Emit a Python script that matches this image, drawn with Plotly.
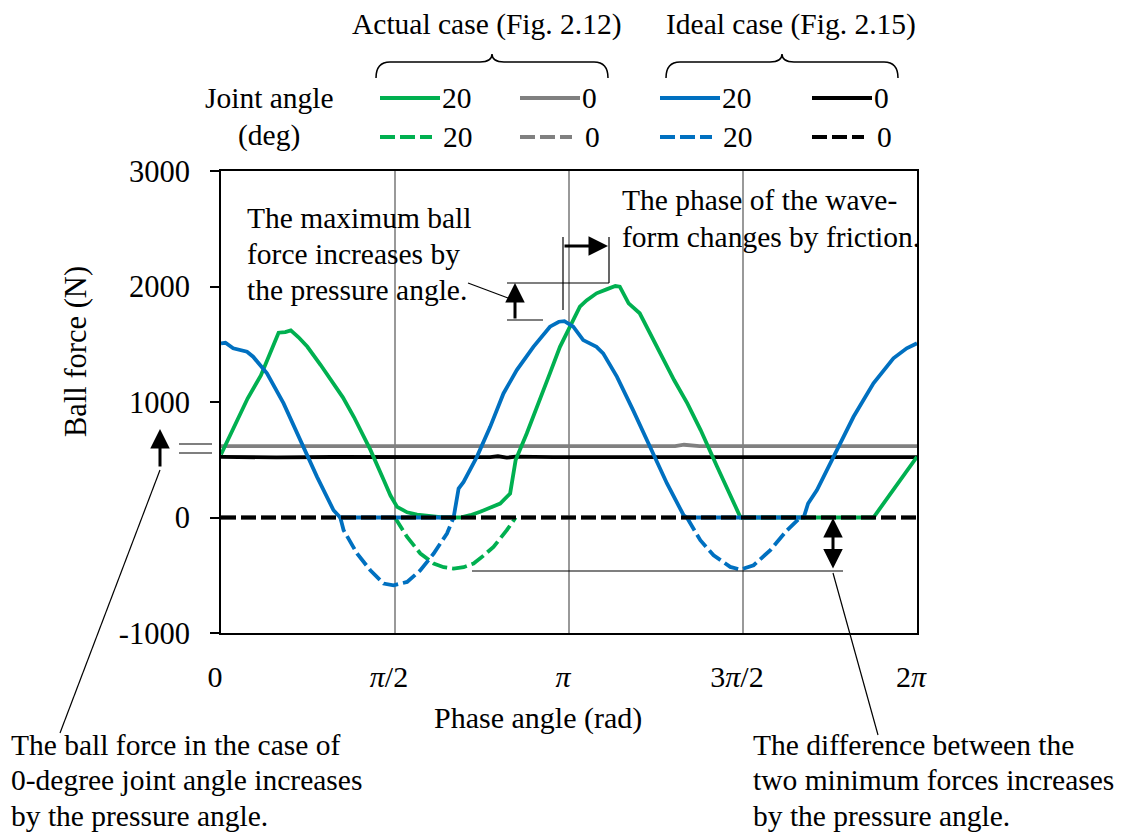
import math
import plotly.graph_objects as go

PI = math.pi
# ---------------- data (phase in rad, force in N) ----------------
green_solid_x = [0, 0.12, 0.24, 0.36, 0.46, 0.52, 0.58, 0.63, 0.70, 0.78, 0.90, 1.02, 1.10, 1.20,
                 1.35, 1.47, 1.53, 1.59, 1.68, 1.77, 1.92, 2.00, 2.16, 2.25, 2.34, 2.45, 2.52, 2.61,
                 2.65, 2.66, 2.76, 2.88, 2.97, 3.06, 3.15, 3.24, 3.30, 3.39, 3.48, 3.56, 3.60, 3.65,
                 3.68, 3.78, 3.87, 3.97, 4.09, 4.21, 4.33, 4.48, 4.60, 4.69, 5.89, 6.07, 6.283]
green_solid_y = [545, 790, 1030, 1230, 1450, 1600, 1605, 1620, 1560, 1478, 1320, 1160, 1040, 870,
                 583, 323, 190, 92, 45, 25, 8, 0, 0, 20, 49, 90, 121, 208,
                 420, 497, 728, 1016, 1250, 1478, 1660, 1825, 1880, 1941, 1975, 2004, 1998, 1900,
                 1854, 1768, 1600, 1421, 1190, 988, 757, 438, 179, 0, 0, 237, 525]

green_dash_x = [1.57, 1.62, 1.68, 1.80, 1.92, 2.01, 2.10, 2.19, 2.28, 2.37, 2.46, 2.58, 2.66]
green_dash_y = [0, -80, -168, -312, -399, -430, -442, -430, -399, -330, -255, -110, 0]

blue_solid_x = [0, 0.04, 0.11, 0.235, 0.29, 0.415, 0.565, 0.716, 0.867, 1.016, 1.077, 2.10, 2.145,
                2.19, 2.31, 2.43, 2.55, 2.67, 2.82, 2.97, 3.05, 3.10, 3.18, 3.27, 3.39, 3.45, 3.575,
                3.72, 3.875, 4.026, 4.176, 4.206, 5.26, 5.30, 5.38, 5.53, 5.71, 5.89, 6.07, 6.19, 6.283]
blue_solid_y = [1508, 1513, 1465, 1435, 1392, 1248, 988, 670, 352, 63, 0, 0, 251,
                308, 525, 785, 1074, 1276, 1478, 1652, 1695, 1700, 1652, 1536, 1478, 1421, 1218,
                930, 612, 295, 20, 0, 0, 121, 237, 525, 872, 1161, 1378, 1465, 1508]

blue_dash_x = [1.077, 1.107, 1.228, 1.348, 1.468, 1.558, 1.68, 1.80, 1.92, 2.04, 2.10, None,
               4.206, 4.24, 4.327, 4.447, 4.597, 4.688, 4.808, 4.959, 5.11, 5.23]
blue_dash_y = [0, -110, -312, -457, -572, -587, -558, -457, -312, -139, 0, None,
               0, -60, -197, -327, -428, -451, -413, -283, -110, 0]

gray_solid_x = [0, 4.10, 4.18, 4.25, 4.32, 6.283]
gray_solid_y = [618, 618, 630, 624, 618, 618]

black_solid_x = [0, 0.5, 1.0, 1.5, 2.0, 2.43, 2.50, 2.58, 2.66, 3.0, 4.0, 5.0, 6.283]
black_solid_y = [525, 520, 524, 521, 524, 522, 530, 518, 527, 523, 522, 524, 522]

zero_x = [0, 6.283]
zero_y = [0, 0]

tick_x = [0, PI / 2, PI, 3 * PI / 2, 2 * PI]
tick_x_text = ["0", "<i>π</i>/2", "<i>π</i>", "3<i>π</i>/2", "2<i>π</i>"]
tick_y = [-1000, 0, 1000, 2000, 3000]
tick_y_text = ["-1000", "0", "1000", "2000", "3000"]

# ---------------- style ----------------
GREEN = "#00B050"
BLUE = "#0070C0"
GRAY = "#808080"
BLACK = "#000000"
FONT = "Liberation Serif"
FS = 29.5
LW = 3.8
DASH = "15px,5px"

L, T, W, H = 221, 171, 696, 462


def px(x):
    return (x - L) / W


def py(y):
    return (T + H - y) / H


fig = go.Figure()


def add(x, y, color, dash="solid"):
    fig.add_trace(go.Scatter(x=x, y=y, mode="lines", line=dict(color=color, width=LW, dash=dash),
                             showlegend=False, hoverinfo="skip"))


add(gray_solid_x, gray_solid_y, GRAY)
add(black_solid_x, black_solid_y, BLACK)
add(zero_x, zero_y, GRAY, DASH)
add(green_solid_x, green_solid_y, GREEN)
add(green_dash_x, green_dash_y, GREEN, DASH)
add(blue_solid_x, blue_solid_y, BLUE)
add(blue_dash_x, blue_dash_y, BLUE, DASH)
add(zero_x, zero_y, BLACK, DASH)

shapes = []
annos = []


def line(x0, y0, x1, y1, w=1.5, color=BLACK, dash="solid"):
    shapes.append(dict(type="line", xref="paper", yref="paper", x0=px(x0), y0=py(y0),
                       x1=px(x1), y1=py(y1), line=dict(color=color, width=w, dash=dash)))


def text(x, y, s, xanchor="left", size=FS, angle=0):
    annos.append(dict(xref="paper", yref="paper", x=px(x), y=py(y), text=s, showarrow=False,
                      xanchor=xanchor, yanchor="middle", textangle=angle,
                      font=dict(family=FONT, size=size, color=BLACK)))


def arrow(tipx, tipy, tailx, taily, side="end"):
    annos.append(dict(xref="paper", yref="paper", x=px(tipx), y=py(tipy), ax=tailx - tipx,
                      ay=taily - tipy, text="", showarrow=True, arrowhead=2, arrowsize=1.3,
                      arrowwidth=3, arrowcolor=BLACK, arrowside=side, standoff=0, startstandoff=0))


def brace(x0, x1, ytop, ybot):
    xm = (x0 + x1) / 2
    pts = [("M", x0, ybot), ("Q", x0, ytop + 8, x0 + 14, ytop + 8), ("L", xm - 12, ytop + 8),
           ("Q", xm, ytop + 8, xm, ytop), ("Q", xm, ytop + 8, xm + 12, ytop + 8),
           ("L", x1 - 14, ytop + 8), ("Q", x1, ytop + 8, x1, ybot)]
    d = ""
    for p in pts:
        cmd = p[0]
        coords = p[1:]
        d += cmd + " " + " ".join(
            f"{px(coords[i]):.5f},{py(coords[i + 1]):.5f}" for i in range(0, len(coords), 2)) + " "
    shapes.append(dict(type="path", xref="paper", yref="paper", path=d,
                       line=dict(color=BLACK, width=1.5)))


# ---------------- legend (drawn) ----------------
text(487, 25, "Actual case (Fig. 2.12)", "center")
text(791, 25, "Ideal case (Fig. 2.15)", "center")
brace(376, 608, 54, 78)
brace(666, 898, 54, 78)
text(269, 98, "Joint angle", "center")
text(269, 135, "(deg)", "center")
legend_items = [
    (380, 98, GREEN, "solid", "20"), (520, 98, GRAY, "solid", "0"),
    (660, 98, BLUE, "solid", "20"), (812, 98, BLACK, "solid", "0"),
    (380, 137, GREEN, DASH, "20"), (520, 137, GRAY, DASH, "0"),
    (660, 137, BLUE, DASH, "20"), (812, 137, BLACK, DASH, "0"),
]
for x0, y0, c, d, lab in legend_items:
    if d == "solid":
        line(x0, y0, x0 + 60, y0, 4, c)
        text(x0 + 60, y0, lab)
    else:
        line(x0, y0, x0 + 52, y0, 4, c, DASH)
        text(x0 + 61 if lab == "20" else x0 + 63, y0, lab)

# ---------------- annotations ----------------
for i, s in enumerate(["The maximum ball", "force increases by", "the pressure angle."]):
    text(245, 218 + 36 * i, s)
line(468, 283, 508, 298, 1.2)
line(507, 283, 609, 283, 1.2)
line(507, 320, 543, 320, 1.2)
arrow(515, 283, 515, 320)
line(563, 237, 563, 310, 1.2)
line(609, 237, 609, 283, 1.2)
arrow(608, 246, 563, 246)
for i, s in enumerate(["The phase of the wave-", "form changes by friction."]):
    text(620, 200 + 37 * i, s)

line(179, 444, 212, 444, 1.2)
line(179, 453, 212, 453, 1.2)
arrow(160, 429, 160, 468)
line(160, 470, 60, 733, 1.2)
for i, s in enumerate(["The ball force in the case of", "0-degree joint angle increases",
                       "by the pressure angle."]):
    text(9, 745 + 35.5 * i, s)

line(472, 571, 843, 571, 1.2)
arrow(833, 518, 833, 570, "end+start")
line(833, 573, 878, 735, 1.2)
for i, s in enumerate(["The difference between the", "two minimum forces increases",
                       "by the pressure angle."]):
    text(751, 745 + 35.5 * i, s)

text(76, 352, "Ball force (N)", "center", 30.5, -90)
text(538, 718, "Phase angle (rad)", "center", 30)

fig.update_layout(
    width=1121, height=832, margin=dict(l=L, r=1121 - L - W, t=T, b=832 - T - H),
    paper_bgcolor="white", plot_bgcolor="white",
    font=dict(family=FONT, size=30, color=BLACK),
    shapes=shapes, annotations=annos, showlegend=False,
    xaxis=dict(range=[0, 2 * PI], tickvals=tick_x, ticktext=tick_x_text, showgrid=True,
               gridcolor="#999999", gridwidth=1.5, zeroline=False, showline=True, linecolor=BLACK,
               linewidth=2, mirror=True, ticks="", ticklabelstandoff=16, ticklabelshift=-6,
               tickfont=dict(family=FONT, size=30)),
    yaxis=dict(range=[-1000, 3000], tickvals=tick_y, ticktext=tick_y_text, showgrid=False,
               zeroline=False, showline=True, linecolor=BLACK, linewidth=2, mirror=True,
               ticks="outside", ticklen=9, tickwidth=1.5, tickcolor=BLACK,
               ticklabelstandoff=14, tickfont=dict(family=FONT, size=30.5)),
)

fig.write_html("out.html")
